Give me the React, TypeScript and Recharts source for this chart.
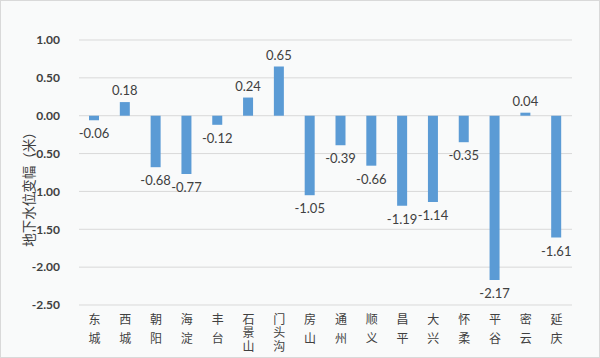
import { BarChart, Bar, XAxis, YAxis, CartesianGrid, LabelList } from 'recharts';

const districts = ['东城', '西城', '朝阳', '海淀', '丰台', '石景山', '门头沟', '房山', '通州', '顺义', '昌平', '大兴', '怀柔', '平谷', '密云', '延庆'];
const changes = [-0.06, 0.18, -0.68, -0.77, -0.12, 0.24, 0.65, -1.05, -0.39, -0.66, -1.19, -1.14, -0.35, -2.17, 0.04, -1.61];
const yTicks = [1, 0.5, 0, -0.5, -1, -1.5, -2, -2.5];

const data = districts.map((name, i) => ({ name, value: changes[i] }));

const numFont = 'Lato, "Liberation Sans", sans-serif';
const cjkFont = '"Noto Sans CJK SC", sans-serif';

// vertical labels (3-char names are squeezed like the original)
function DistrictTick(props: any) {
    const { x, y, payload } = props;
    const name = payload.value as string;
    const spacing = name.length > 2 ? 1.5 : 7;
    return (
        <text
            x={x}
            y={y}
            textAnchor="start"
            fontFamily={cjkFont}
            fontSize={12}
            fill="#404040"
            style={{ writingMode: 'vertical-rl', letterSpacing: spacing }}
        >
            {name}
        </text>
    );
}

function ValueLabel(props: any) {
    const { x, y, width, height, value } = props;
    const top = Math.min(y, y + height);
    const bottom = Math.max(y, y + height);
    const ly = value >= 0 ? top - 12 : bottom + 13;
    return (
        <text
            x={x + width / 2}
            y={ly}
            textAnchor="middle"
            dominantBaseline="central"
            fontFamily={numFont}
            fontSize={13}
            fill="#404040"
        >
            {value.toFixed(2)}
        </text>
    );
}

function AxisTitle() {
    return (
        <text
            x={27}
            y={185}
            transform="rotate(-90 27 185)"
            textAnchor="middle"
            dominantBaseline="central"
            fontFamily={cjkFont}
            fontSize={13.5}
            fill="#404040"
        >
            地下水位变幅（米）
        </text>
    );
}

export default function App() {
    return (
        <div
            style={{
                position: 'absolute',
                left: 0,
                top: 0,
                width: 600,
                height: 358,
                boxSizing: 'border-box',
                border: '1px solid #d9d9d9',
                background: '#f9fafa',
            }}
        >
            <BarChart
                width={598}
                height={356}
                data={data}
                margin={{ top: 39, right: 27, left: 0, bottom: 0 }}
                barSize={10}
            >
                <CartesianGrid vertical={false} stroke="#d9d9d9" />
                <XAxis
                    dataKey="name"
                    axisLine={false}
                    tickLine={false}
                    interval={0}
                    height={52}
                    tick={<DistrictTick />}
                />
                <YAxis
                    width={78}
                    domain={[-2.5, 1]}
                    ticks={yTicks}
                    axisLine={false}
                    tickLine={false}
                    tickFormatter={(v: number) => v.toFixed(2)}
                    tick={{ fill: '#404040', fontSize: 12, fontWeight: 700, fontFamily: numFont }}
                    tickMargin={13}
                />
                <Bar dataKey="value" fill="#5b9bd5" isAnimationActive={false}>
                    <LabelList dataKey="value" content={<ValueLabel />} />
                </Bar>
                <AxisTitle />
            </BarChart>
        </div>
    );
}
